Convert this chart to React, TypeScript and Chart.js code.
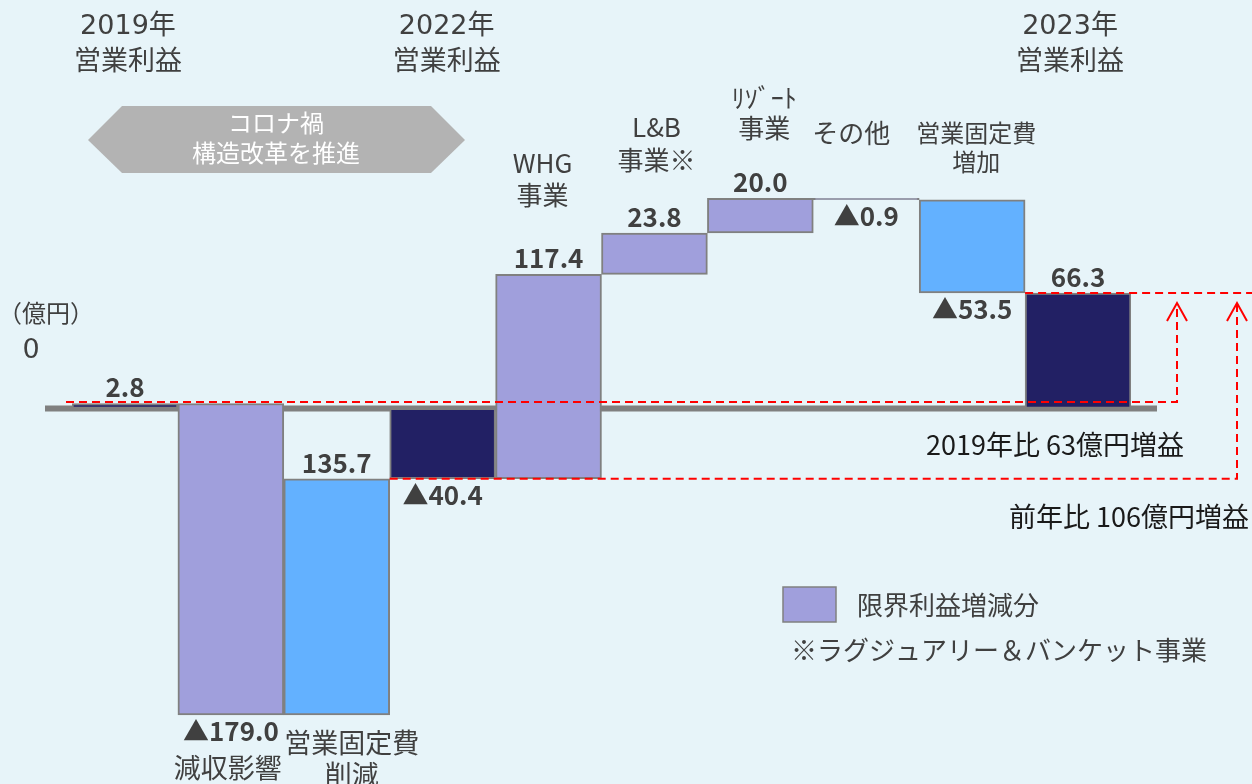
import React, { useEffect, useRef } from 'react';
import { Chart, registerables } from 'chart.js';

Chart.register(...registerables);

// ---------- data ----------
const categories: string[][] = [
  ['2019年', '営業利益'],
  ['減収影響'],
  ['営業固定費', '削減'],
  ['2022年', '営業利益'],
  ['WHG', '事業'],
  ['L&B', '事業※'],
  ['ﾘｿﾞｰﾄ', '事業'],
  ['その他'],
  ['営業固定費', '増加'],
  ['2023年', '営業利益'],
];
const values: number[] = [2.8, -179.0, 135.7, -40.4, 117.4, 23.8, 20.0, -0.9, -53.5, 66.3];
const kinds: string[] = ['total', 'delta', 'delta', 'total', 'delta', 'delta', 'delta', 'delta', 'delta', 'total'];
const groups: string[] = ['profit', 'margin', 'fixed', 'profit', 'margin', 'margin', 'margin', 'margin', 'fixed', 'profit'];

const legendLabel = '限界利益増減分';
const footnote = '※ラグジュアリー＆バンケット事業';
const compare2019 = '2019年比 63億円増益';
const compareLastYear = '前年比 106億円増益';
const bannerLines = ['コロナ禍', '構造改革を推進'];
const unitLabel = '（億円）';
const zeroLabel = '0';

// ---------- styles / layout ----------
const BG = '#E7F4F9';
const COLORS: Record<string, string> = { profit: '#222064', margin: '#A09FDC', fixed: '#63B1FF' };
const BORDER = '#808080';
const TEXT = '#404040';
const FONT = '"Noto Sans CJK JP", "Noto Sans", sans-serif';
const WIDE_FONT = '"DejaVu Sans", "Noto Sans CJK JP", sans-serif';

// per category label layout: dx from bar centre, line centre y's, font size, wide digits
const catLayout = [
  { dx: 3, ys: [27, 60], size: 27, wide: true },
  { dx: -3, ys: [768], size: 27, wide: false },
  { dx: 15, ys: [743, 775], size: 27, wide: false },
  { dx: 4, ys: [27, 60], size: 27, wide: true },
  { dx: -6, ys: [163, 195], size: 26, wide: false },
  { dx: 2, ys: [127, 160], size: 26, wide: false },
  { dx: 4, ys: [98, 128], size: 26, wide: false },
  { dx: -15, ys: [133], size: 26, wide: false },
  { dx: 4, ys: [133, 162], size: 24, wide: false },
  { dx: -8, ys: [27, 60], size: 27, wide: true },
];

function buildRanges(): [number, number][] {
  let run = 0;
  return values.map((v, i) => {
    if (kinds[i] === 'total') {
      run = v;
      return [0, v] as [number, number];
    }
    const s = run;
    run = +(run + v).toFixed(1);
    return [s, run] as [number, number];
  });
}

function fmt(v: number) {
  return v < 0 ? '▲' + Math.abs(v).toFixed(1) : v.toFixed(1);
}

export default function App() {
  const ref = useRef<HTMLCanvasElement | null>(null);

  useEffect(() => {
    if (!ref.current) return;
    const ranges = buildRanges();

    const overlay = {
      id: 'overlay',
      beforeDraw(chart: any) {
        const { ctx, width, height } = chart;
        ctx.save();
        ctx.fillStyle = BG;
        ctx.fillRect(0, 0, width, height);
        ctx.restore();
      },
      beforeDatasetsDraw(chart: any) {
        const { ctx } = chart;
        const y0 = chart.scales.y.getPixelForValue(0);
        ctx.save();
        ctx.strokeStyle = '#808080';
        ctx.lineWidth = 6;
        ctx.beginPath();
        ctx.moveTo(45, y0);
        ctx.lineTo(chart.chartArea.right + 26, y0);
        ctx.stroke();
        ctx.restore();
      },
      afterDatasetsDraw(chart: any) {
        const { ctx, chartArea } = chart;
        const ys = chart.scales.y;
        const meta = chart.getDatasetMeta(0);
        ctx.save();

        // value labels
        ctx.fillStyle = TEXT;
        ctx.textAlign = 'center';
        ctx.textBaseline = 'middle';
        ctx.font = `bold 26px ${FONT}`;
        meta.data.forEach((el: any, i: number) => {
          const top = Math.min(el.y, el.base);
          const bottom = Math.max(el.y, el.base);
          const v = values[i];
          const y = v >= 0 ? top - 16 : bottom + 16;
          ctx.fillText(fmt(v), el.x, y);
        });

        // category labels
        meta.data.forEach((el: any, i: number) => {
          const L = catLayout[i];
          categories[i].forEach((line, j) => {
            ctx.font = `${L.size}px ${L.wide && j === 0 ? WIDE_FONT : FONT}`;
            ctx.fillText(line, el.x + L.dx, L.ys[j]);
          });
        });

        // red dashed comparison lines
        const w = meta.data[0].width;
        const yA = ys.getPixelForValue(ranges[0][1]) - 1.5;
        const yB = ys.getPixelForValue(ranges[3][1]);
        const yC = ys.getPixelForValue(ranges[9][1]);
        const xA0 = meta.data[0].x - w / 2 - 6;
        const xA1 = chartArea.right + 46;
        const xB0 = meta.data[3].x - w / 2;
        const xB1 = chartArea.right + 106;
        const xC0 = meta.data[8].x + w / 2;
        const tipY = 303;
        ctx.strokeStyle = '#FF0000';
        ctx.lineWidth = 2;
        ctx.setLineDash([8, 5]);
        ctx.beginPath();
        ctx.moveTo(xA0, yA);
        ctx.lineTo(xA1, yA);
        ctx.lineTo(xA1, tipY + 2);
        ctx.stroke();
        ctx.beginPath();
        ctx.moveTo(xB0, yB);
        ctx.lineTo(xB1, yB);
        ctx.lineTo(xB1, tipY + 2);
        ctx.stroke();
        ctx.beginPath();
        ctx.moveTo(xC0, yC);
        ctx.lineTo(chart.width, yC);
        ctx.stroke();
        ctx.setLineDash([]);
        [xA1, xB1].forEach((x) => {
          ctx.beginPath();
          ctx.moveTo(x - 10, tipY + 18);
          ctx.lineTo(x, tipY);
          ctx.lineTo(x + 10, tipY + 18);
          ctx.stroke();
        });

        // banner (hexagon arrow)
        ctx.fillStyle = '#B3B3B3';
        ctx.beginPath();
        ctx.moveTo(88, 140);
        ctx.lineTo(122, 106);
        ctx.lineTo(431, 106);
        ctx.lineTo(465, 140);
        ctx.lineTo(431, 173);
        ctx.lineTo(122, 173);
        ctx.closePath();
        ctx.fill();
        ctx.fillStyle = '#FFFFFF';
        ctx.font = `24px ${FONT}`;
        ctx.fillText(bannerLines[0], 276, 123);
        ctx.fillText(bannerLines[1], 276, 153);

        // unit and zero
        ctx.fillStyle = TEXT;
        ctx.font = `24px ${FONT}`;
        ctx.fillText(unitLabel, 46, 313);
        ctx.font = `27px ${WIDE_FONT}`;
        ctx.fillText(zeroLabel, 31, 351);

        // comparison texts
        ctx.fillStyle = '#1A1A1A';
        ctx.font = `27px ${FONT}`;
        ctx.fillText(compare2019, 1055, 445);
        ctx.fillText(compareLastYear, 1129, 517);

        // legend
        ctx.fillStyle = COLORS.margin;
        ctx.fillRect(783, 587, 53, 35);
        ctx.strokeStyle = BORDER;
        ctx.lineWidth = 1.5;
        ctx.strokeRect(783, 587, 53, 35);
        ctx.fillStyle = TEXT;
        ctx.textAlign = 'left';
        ctx.font = `26px ${FONT}`;
        ctx.fillText(legendLabel, 857, 605);
        ctx.fillText(footnote, 791, 650);

        ctx.restore();
      },
    };

    const chart = new Chart(ref.current, {
      type: 'bar',
      data: {
        labels: categories.map((c) => c.join('')),
        datasets: [
          {
            data: ranges as any,
            backgroundColor: groups.map((g) => COLORS[g]),
            borderColor: BORDER,
            borderWidth: 2,
            borderSkipped: false,
            barPercentage: 1,
            categoryPercentage: 1,
          },
        ],
      },
      options: {
        responsive: false,
        animation: false,
        layout: { padding: { left: 72, right: 121, top: 60.4, bottom: 27.6 } },
        plugins: { legend: { display: false }, tooltip: { enabled: false } },
        scales: {
          x: { display: false },
          y: { display: false, min: -200, max: 200 },
        },
      },
      plugins: [overlay],
    });
    return () => chart.destroy();
  }, []);

  return (
    <div style={{ position: 'absolute', left: 0, top: 0, width: 1252, height: 784, background: BG }}>
      <canvas ref={ref} width={1252} height={784} />
    </div>
  );
}
